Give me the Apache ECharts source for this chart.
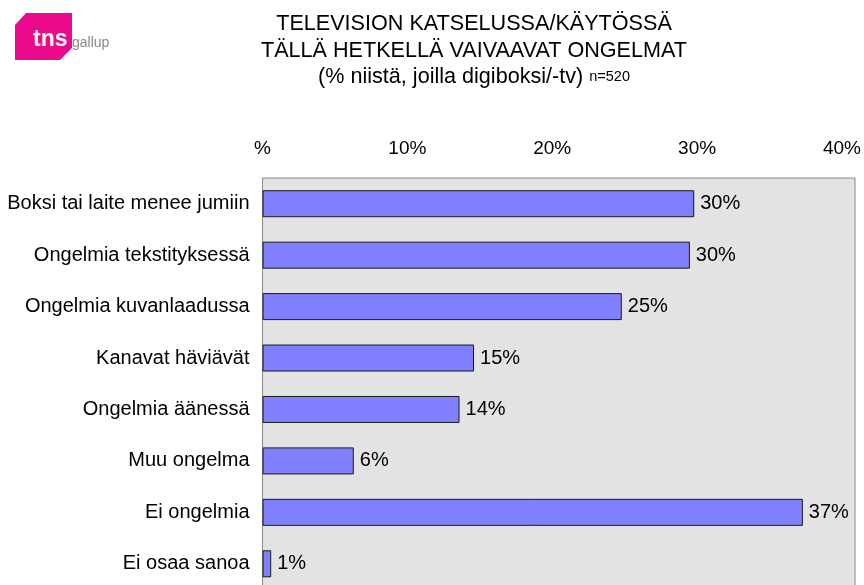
<!DOCTYPE html>
<html>
<head>
<meta charset="utf-8">
<script src="https://cdn.jsdelivr.net/npm/echarts@6/dist/echarts.min.js"></script>
<style>
html,body{margin:0;padding:0;background:#fff;overflow:hidden;width:864px;height:585px;}
#chart{width:864px;height:600px;}
</style>
</head>
<body>
<div id="chart"></div>
<script>
var categories = [
  'Boksi tai laite menee jumiin',
  'Ongelmia tekstityksessä',
  'Ongelmia kuvanlaadussa',
  'Kanavat häviävät',
  'Ongelmia äänessä',
  'Muu ongelma',
  'Ei ongelmia',
  'Ei osaa sanoa'
];
var values = [29.8, 29.5, 24.8, 14.6, 13.6, 6.3, 37.3, 0.6];
var valueLabels = ['30%', '30%', '25%', '15%', '14%', '6%', '37%', '1%'];
var tickValues = [0, 10, 20, 30, 40];
var tickLabels = ['%', '10%', '20%', '30%', '40%'];

var FONT = '"Liberation Sans", Arial, sans-serif';
var chart = echarts.init(document.getElementById('chart'), null, {renderer: 'canvas'});

chart.setOption({
  backgroundColor: '#ffffff',
  animation: false,
  title: {
    text: 'TELEVISION KATSELUSSA/KÄYTÖSSÄ\nTÄLLÄ HETKELLÄ VAIVAAVAT ONGELMAT\n(% niistä, joilla digiboksi/-tv) {n|n=520}',
    left: 469,
    top: 6,
    textAlign: 'center',
    textStyle: {
      fontFamily: FONT,
      fontSize: 21.6,
      fontWeight: 'normal',
      color: '#000',
      lineHeight: 26.5,
      align: 'center',
      rich: {
        n: {fontFamily: FONT, fontSize: 14.5, color: '#000', lineHeight: 26.5}
      }
    }
  },
  graphic: [
    {
      type: 'polygon',
      shape: {points: [[26, 13], [72, 13], [72, 48], [60, 60], [15, 60], [15, 25]]},
      style: {fill: '#EC0A8C'}
    },
    {
      type: 'text',
      left: 33, top: 28,
      style: {text: 'tns', fill: '#ffffff', font: 'bold 23px ' + FONT}
    },
    {
      type: 'text',
      left: 72, top: 36,
      style: {text: 'gallup', fill: '#8a8a8a', font: '14px ' + FONT}
    }
  ],
  grid: {
    left: 262.5,
    top: 178,
    width: 593.5,
    height: 411.5,
    show: true,
    backgroundColor: '#E3E3E3',
    borderColor: '#888888',
    borderWidth: 1,
    containLabel: false
  },
  xAxis: {
    type: 'value',
    position: 'top',
    min: 0,
    max: 40.9,
    interval: 10,
    splitLine: {show: false},
    axisLine: {show: false},
    axisTick: {show: false},
    axisLabel: {
      margin: 20,
      fontFamily: FONT,
      fontSize: 19,
      color: '#000',
      showMaxLabel: false,
      formatter: function (v) {
        var i = tickValues.indexOf(v);
        return i >= 0 ? tickLabels[i] : '';
      }
    }
  },
  yAxis: {
    type: 'category',
    inverse: true,
    data: categories,
    axisLine: {show: false},
    axisTick: {show: false},
    splitLine: {show: false},
    axisLabel: {
      margin: 13,
      fontFamily: FONT,
      fontSize: 20,
      color: '#000'
    }
  },
  series: [{
    type: 'bar',
    data: values,
    barWidth: 27,
    itemStyle: {color: '#8080FF', borderColor: '#1a1a1a', borderWidth: 1},
    label: {
      show: true,
      position: 'right',
      distance: 6,
      fontFamily: FONT,
      fontSize: 20,
      color: '#000',
      formatter: function (p) { return valueLabels[p.dataIndex]; }
    }
  }]
});
</script>
</body>
</html>
